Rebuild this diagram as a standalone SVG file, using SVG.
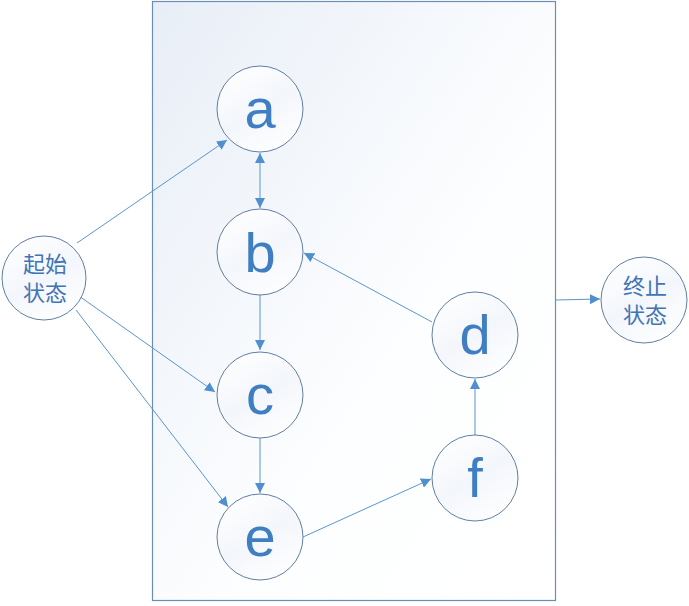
<svg xmlns="http://www.w3.org/2000/svg" width="689" height="606" viewBox="0 0 689 606">
<style>
.node circle{fill:url(#cg);stroke:#5f7fa3;stroke-width:1}
.lt{font-family:"Liberation Sans",Arial,sans-serif;font-size:56px;fill:#3f7ec3;text-anchor:middle}
.ct{font-family:"Noto Sans CJK SC","Noto Sans",sans-serif;font-size:22px;fill:#3f74b5;text-anchor:middle}
.edge{stroke:#5b95d0;stroke-width:1;fill:none;marker-end:url(#ah)}
</style>
<defs>
<linearGradient id="rg" x1="0" y1="0" x2="1" y2="1">
<stop offset="0" stop-color="#e8eef7"/>
<stop offset="0.6" stop-color="#fdfeff"/>
<stop offset="1" stop-color="#ffffff"/>
</linearGradient>
<linearGradient id="cg" x1="0.2" y1="0" x2="0.8" y2="1">
<stop offset="0" stop-color="#ffffff"/>
<stop offset="0.5" stop-color="#f3f6fb"/>
<stop offset="1" stop-color="#ffffff"/>
</linearGradient>
<marker id="ah" viewBox="0 0 10 10" refX="10" refY="5" markerWidth="10" markerHeight="10" markerUnits="userSpaceOnUse" orient="auto">
<path d="M0,0 L10,5 L0,10 z" fill="#4f8fcf"/>
</marker>
<marker id="as" viewBox="0 0 10 10" refX="10" refY="5" markerWidth="10" markerHeight="10" markerUnits="userSpaceOnUse" orient="auto-start-reverse">
<path d="M0,0 L10,5 L0,10 z" fill="#4f8fcf"/>
</marker>
</defs>
<rect width="689" height="606" fill="#ffffff"/>
<g id="container"><rect x="152.5" y="1.5" width="403" height="599" fill="url(#rg)" stroke="#6a8fb5" stroke-width="1.2"/></g>
<g id="connectors">
<line class="edge" x1="77" y1="243" x2="227" y2="140"/>
<line class="edge" x1="79" y1="296" x2="215" y2="392"/>
<line class="edge" x1="76" y1="310" x2="228" y2="507"/>
<line class="edge" x1="260" y1="153" x2="260" y2="208" marker-start="url(#as)"/>
<line class="edge" x1="260" y1="295" x2="260" y2="350"/>
<line class="edge" x1="260" y1="438" x2="260" y2="493"/>
<line class="edge" x1="303" y1="537" x2="431" y2="479"/>
<line class="edge" x1="475" y1="435" x2="475" y2="379"/>
<line class="edge" x1="432" y1="322" x2="304" y2="253"/>
<line class="edge" x1="556" y1="300" x2="600" y2="299"/>
</g>
<g id="start" class="node"><circle cx="44" cy="278" r="42"/><text class="ct" x="45" y="272">起始</text><text class="ct" x="45" y="301">状态</text></g>
<g id="end" class="node"><circle cx="644" cy="300" r="43"/><text class="ct" x="645" y="294">终止</text><text class="ct" x="645" y="323">状态</text></g>
<g id="a" class="node"><circle cx="260" cy="109" r="43"/><text class="lt" x="260" y="128">a</text></g>
<g id="b" class="node"><circle cx="260" cy="252" r="43"/><text class="lt" x="260" y="272">b</text></g>
<g id="c" class="node"><circle cx="260" cy="395" r="43"/><text class="lt" x="260" y="414">c</text></g>
<g id="e" class="node"><circle cx="260" cy="537" r="43"/><text class="lt" x="260" y="556">e</text></g>
<g id="d" class="node"><circle cx="475" cy="335" r="43"/><text class="lt" x="475" y="354">d</text></g>
<g id="f" class="node"><circle cx="475" cy="478" r="43"/><text class="lt" x="475" y="497">f</text></g>
</svg>
